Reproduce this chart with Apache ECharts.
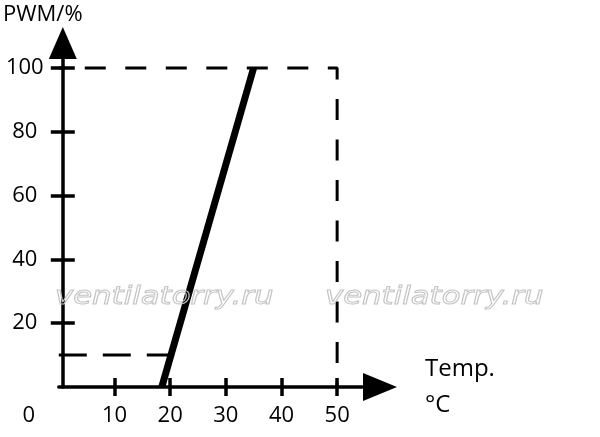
<!DOCTYPE html>
<html>
<head>
<meta charset="utf-8">
<script src="https://cdn.jsdelivr.net/npm/echarts@6/dist/echarts.min.js"></script>
<style>html,body{margin:0;padding:0;background:#fff}#c{width:600px;height:437px}</style>
</head>
<body>
<div id="c"></div>
<script>
// Data
var xTicks = [10, 20, 30, 40, 50];
var xLabels = [0, 10, 20, 30, 40, 50];
var yTicks = [20, 40, 60, 80, 100];
var rampLine = [[18.5, 0], [35, 100]];            // PWM vs temperature
var limitBox = [[0, 100], [50, 100], [50, 0]];   // dashed 100% / 50°C guides
var lowGuide = [[0, 10], [20, 10]];              // dashed start-level guide
var xName = 'Temp.\n°C';
var yName = 'PWM/%';
var watermark = 'ventilatorry.ru';

var FONT = 'Open Sans';
var chart = echarts.init(document.getElementById('c'), null, {renderer: 'canvas'});

function xAxisBase(extra) {
  return Object.assign({
    type: 'value', min: 0, max: 57.7, position: 'bottom',
    splitLine: {show: false}
  }, extra);
}
function yAxisBase(extra) {
  return Object.assign({
    type: 'value', min: 0, max: 107.8, position: 'left', offset: -4,
    splitLine: {show: false}
  }, extra);
}

chart.setOption({
  animation: false,
  backgroundColor: '#fff',
  grid: {left: 57, right: 220, top: 43, bottom: 50, containLabel: false},
  xAxis: [
    xAxisBase({
      name: xName, nameLocation: 'end', nameGap: 45,
      nameTextStyle: {color: '#000', fontFamily: FONT, fontSize: 24, lineHeight: 36,
        align: 'left', verticalAlign: 'middle', padding: [28, 0, 0, 0]},
      axisLine: {show: true, lineStyle: {color: '#000', width: 3.5},
        symbol: ['none', 'triangle'], symbolSize: [28, 34]},
      axisTick: {show: true, inside: false, length: 9, lineStyle: {color: '#000', width: 3.5},
        customValues: xTicks},
      axisLabel: {show: true, color: '#000', fontFamily: FONT, fontSize: 22, margin: 18,
        customValues: xLabels,
        formatter: function (v) { return v === 0 ? '{z|0}' : String(v); },
        rich: {z: {color: '#000', fontFamily: FONT, fontSize: 22, padding: [0, 60, 0, 0]}}}
    }),
    xAxisBase({
      axisLine: {show: false},
      axisTick: {show: true, inside: true, length: 9, lineStyle: {color: '#000', width: 3.5},
        customValues: xTicks},
      axisLabel: {show: false}
    })
  ],
  yAxis: [
    yAxisBase({
      name: yName, nameLocation: 'end', nameGap: 17,
      nameTextStyle: {color: '#000', fontFamily: FONT, fontSize: 22,
        align: 'center', padding: [0, 40, 0, 0]},
      axisLine: {show: true, lineStyle: {color: '#000', width: 3.5},
        symbol: ['none', 'triangle'], symbolSize: [28, 32]},
      axisTick: {show: true, inside: false, length: 12, lineStyle: {color: '#000', width: 3.5},
        customValues: yTicks},
      axisLabel: {show: true, color: '#000', fontFamily: FONT, fontSize: 22, margin: 38,
        align: 'center', customValues: yTicks}
    }),
    yAxisBase({
      axisLine: {show: false},
      axisTick: {show: true, inside: true, length: 12, lineStyle: {color: '#000', width: 3.5},
        customValues: yTicks},
      axisLabel: {show: false}
    })
  ],
  graphic: [
    {type: 'text', x: 55, y: 285, scaleX: 1.23, z: 100, silent: true,
      style: {text: watermark, font: 'oblique 25px "DejaVu Sans"', fill: 'rgba(255,255,255,0)',
        stroke: '#c4c4c4', lineWidth: 1}},
    {type: 'text', x: 325, y: 285, scaleX: 1.23, z: 100, silent: true,
      style: {text: watermark, font: 'oblique 25px "DejaVu Sans"', fill: 'rgba(255,255,255,0)',
        stroke: '#c4c4c4', lineWidth: 1}}
  ],
  series: [
    {type: 'line', data: limitBox, showSymbol: false, symbol: 'none', silent: true,
      lineStyle: {color: '#000', width: 3, type: [21, 19.5], dashOffset: 14.5}},
    {type: 'line', data: lowGuide, showSymbol: false, symbol: 'none', silent: true,
      lineStyle: {color: '#000', width: 3, type: [28, 16]}},
    {type: 'line', data: rampLine, showSymbol: false, symbol: 'none', silent: true,
      lineStyle: {color: '#000', width: 7, cap: 'butt'}}
  ]
});
</script>
</body>
</html>
